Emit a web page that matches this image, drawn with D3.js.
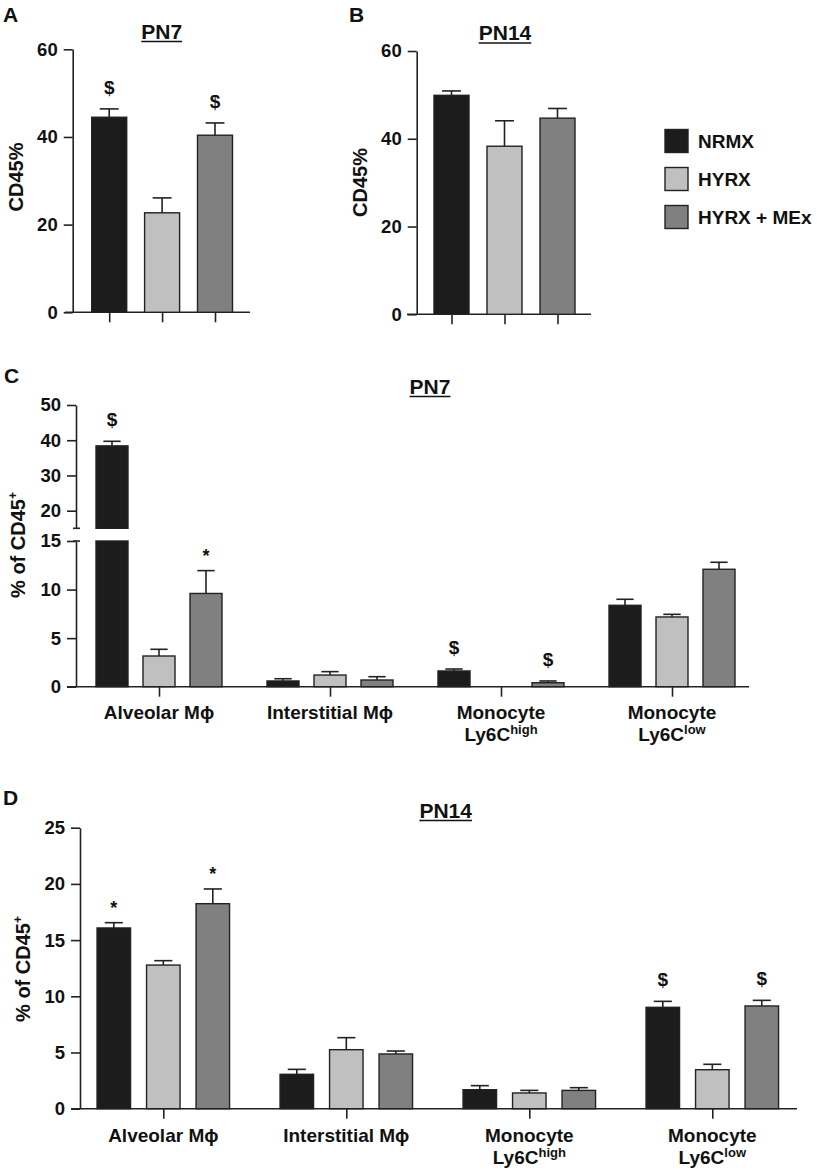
<!DOCTYPE html>
<html><head><meta charset="utf-8">
<script src="https://cdn.jsdelivr.net/npm/d3@7"></script>
<style>
body{margin:0;background:#fff}
text{font-family:"Liberation Sans",Arial,Helvetica,sans-serif;font-weight:bold;fill:#111}
</style>
</head><body>
<svg id="chart" width="817" height="1175"></svg>
<script>
// ---------- data ----------
const series = ["NRMX", "HYRX", "HYRX + MEx"];
const seriesColors = ["#1c1c1c", "#c0c0c0", "#808080"];

// Panel A (PN7, CD45%)
const aMeans = [44.5, 22.7, 40.4];
const aSems  = [1.9, 3.4, 2.8];
const aMarks = ["$", "", "$"];
const aTicks = [0, 20, 40, 60];

// Panel B (PN14, CD45%)
const bMeans = [49.9, 38.3, 44.7];
const bSems  = [1.0, 5.8, 2.2];
const bMarks = ["", "", ""];
const bTicks = [0, 20, 40, 60];

// Cell types
const cellTypes = ["Alveolar Mϕ", "Interstitial Mϕ", "Monocyte Ly6C high", "Monocyte Ly6C low"];
const labelLine1 = ["Alveolar Mϕ", "Interstitial Mϕ", "Monocyte", "Monocyte"];
const labelLine2 = ["", "", "Ly6C", "Ly6C"];
const labelSup   = ["", "", "high", "low"];

// Panel C (PN7, % of CD45+), broken axis
const cNRMX     = [38.4, 0.59, 1.62, 8.38];
const cNRMXsem  = [1.3, 0.23, 0.20, 0.62];
const cHYRX     = [3.16, 1.20, 0, 7.18];
const cHYRXsem  = [0.69, 0.35, 0, 0.27];
const cMEx      = [9.6, 0.69, 0.41, 12.09];
const cMExsem   = [2.35, 0.34, 0.18, 0.72];
const cMarksNRMX = ["$", "", "$", ""];
const cMarksHYRX = ["", "", "", ""];
const cMarksMEx  = ["*", "", "$", ""];
const cTicksLow  = [0, 5, 10, 15];
const cTicksHigh = [20, 30, 40, 50];

// Panel D (PN14, % of CD45+)
const dNRMX     = [16.08, 3.06, 1.69, 9.02];
const dNRMXsem  = [0.47, 0.44, 0.36, 0.53];
const dHYRX     = [12.78, 5.25, 1.40, 3.47];
const dHYRXsem  = [0.39, 1.07, 0.23, 0.48];
const dMEx      = [18.24, 4.87, 1.63, 9.14];
const dMExsem   = [1.31, 0.26, 0.24, 0.50];
const dMarksNRMX = ["*", "", "", "$"];
const dMarksHYRX = ["", "", "", ""];
const dMarksMEx  = ["*", "", "", "$"];
const dTicks = [0, 5, 10, 15, 20, 25];

// ---------- drawing ----------
const svg = d3.select("#chart");
const INK = "#222";

function styleAxis(g) {
  g.select(".domain").attr("stroke", INK).attr("stroke-width", 1.6);
  g.selectAll(".tick line").attr("stroke", INK).attr("stroke-width", 1.6);
  g.selectAll(".tick text").attr("font-size", 18.5).attr("fill", "#111")
    .style("font-family", '"Liberation Sans",Arial,sans-serif').style("font-weight", "bold");
}

function underlinedTitle(x, y, txt) {
  const t = svg.append("text").attr("x", x).attr("y", y).attr("text-anchor", "middle")
    .attr("font-size", 21).text(txt);
  const w = t.node().getComputedTextLength();
  svg.append("line").attr("x1", x - w / 2).attr("x2", x + w / 2)
    .attr("y1", y + 3).attr("y2", y + 3).attr("stroke", "#111").attr("stroke-width", 1.6);
}

function panelLetter(x, y, l) {
  svg.append("text").attr("x", x).attr("y", y).attr("font-size", 21).text(l);
}

function yLabel(x, y, main, sup) {
  const t = svg.append("text").attr("transform", `translate(${x},${y}) rotate(-90)`)
    .attr("text-anchor", "middle").attr("font-size", 20);
  t.append("tspan").text(main);
  if (sup) t.append("tspan").attr("font-size", 12).attr("dy", -8).text(sup);
}

function marker(x, yTop, m) {
  if (!m) return;
  svg.append("text").attr("x", x).attr("y", m === "*" ? yTop - 9 : yTop - 15)
    .attr("text-anchor", "middle").attr("font-size", m === "*" ? 18 : 19).text(m);
}

function bar(x, w, yTopPx, yBotPx, color) {
  svg.append("rect").attr("x", x - w / 2).attr("y", yTopPx).attr("width", w)
    .attr("height", Math.max(0, yBotPx - yTopPx)).attr("fill", color)
    .attr("stroke", INK).attr("stroke-width", 1.4);
}

function errBar(x, w, yMean, yErr) {
  svg.append("line").attr("x1", x).attr("x2", x).attr("y1", yMean).attr("y2", yErr)
    .attr("stroke", INK).attr("stroke-width", 1.6);
  svg.append("line").attr("x1", x - w * 0.27).attr("x2", x + w * 0.27).attr("y1", yErr).attr("y2", yErr)
    .attr("stroke", INK).attr("stroke-width", 1.6);
}

// ---- simple panels (A, B)
function simplePanel(cfg) {
  const y = d3.scaleLinear().domain([0, 60]).range([cfg.bottom, cfg.top]);
  const x = d3.scalePoint().domain(series).range(cfg.xRange);
  const gy = svg.append("g").attr("transform", `translate(${cfg.axisX},0)`)
    .call(d3.axisLeft(y).tickValues(cfg.ticks).tickSize(9).tickPadding(6).tickSizeOuter(0));
  styleAxis(gy);
  svg.append("line").attr("x1", cfg.baseX[0]).attr("x2", cfg.baseX[1])
    .attr("y1", y(0)).attr("y2", y(0)).attr("stroke", INK).attr("stroke-width", 1.6);
  const gx = svg.append("g").attr("transform", `translate(0,${y(0)})`)
    .call(d3.axisBottom(x).tickSize(10).tickFormat("").tickSizeOuter(0));
  gx.select(".domain").remove();
  gx.selectAll(".tick line").attr("stroke", INK).attr("stroke-width", 1.6);
  series.forEach((s, i) => {
    const cx = x(s);
    bar(cx, cfg.barW, y(cfg.means[i]), y(0), seriesColors[i]);
    errBar(cx, cfg.barW, y(cfg.means[i]), y(cfg.means[i] + cfg.sems[i]));
    marker(cx, y(cfg.means[i] + cfg.sems[i]), cfg.marks[i]);
  });
}

simplePanel({axisX: 72.7, bottom: 312.3, top: 49.3, ticks: aTicks, xRange: [109.2, 215], barW: 35,
  baseX: [65, 250], means: aMeans, sems: aSems, marks: aMarks});
simplePanel({axisX: 416.7, bottom: 314.3, top: 51, ticks: bTicks, xRange: [451.5, 557.5], barW: 35,
  baseX: [407, 591], means: bMeans, sems: bSems, marks: bMarks});

panelLetter(3, 22, "A");
panelLetter(349, 22, "B");
underlinedTitle(161.7, 38.5, "PN7");
underlinedTitle(505, 40, "PN14");
yLabel(22.5, 177, "CD45%");
yLabel(366.5, 182.5, "CD45%");

// legend
const legend = svg.append("g");
series.forEach((s, i) => {
  const ly = 129.5 + i * 38;
  legend.append("rect").attr("x", 665).attr("y", ly).attr("width", 23).attr("height", 23)
    .attr("fill", seriesColors[i]).attr("stroke", INK).attr("stroke-width", 1.4);
  legend.append("text").attr("x", 698).attr("y", ly + 18.5).attr("font-size", 19).text(s);
});

// ---- grouped panels (C, D)
function groupedPanel(cfg) {
  const xg = d3.scalePoint().domain(cellTypes).range(cfg.groupRange);
  const xs = d3.scalePoint().domain(series).range([-cfg.step, cfg.step]);
  const yPos = cfg.yPos;
  cfg.axes.forEach(a => {
    const g = svg.append("g").attr("transform", `translate(${cfg.axisX},0)`)
      .call(d3.axisLeft(a.scale).tickValues(a.ticks).tickSize(9).tickPadding(6).tickSizeOuter(0));
    styleAxis(g);
  });
  if (cfg.breakMarks) {
    cfg.breakMarks.forEach(by => {
      svg.append("line").attr("x1", cfg.axisX - 3).attr("x2", cfg.axisX + 4)
        .attr("y1", by).attr("y2", by).attr("stroke", INK).attr("stroke-width", 1.6);
    });
  }
  const y0 = yPos(0);
  svg.append("line").attr("x1", cfg.baseX[0]).attr("x2", cfg.baseX[1])
    .attr("y1", y0).attr("y2", y0).attr("stroke", INK).attr("stroke-width", 1.6);
  const gx = svg.append("g").attr("transform", `translate(0,${y0})`)
    .call(d3.axisBottom(xg).tickSize(10).tickFormat("").tickSizeOuter(0));
  gx.select(".domain").remove();
  gx.selectAll(".tick line").attr("stroke", INK).attr("stroke-width", 1.6);

  const means = cfg.means, sems = cfg.sems, marks = cfg.marks;
  cellTypes.forEach((c, gi) => {
    series.forEach((s, si) => {
      const cx = xg(c) + xs(s);
      const v = means[si][gi];
      const e = sems[si][gi];
      if (v > 0) {
        if (cfg.breakAt !== undefined && v > cfg.breakAt) {
          bar(cx, cfg.barW, cfg.yLow(cfg.breakAt), cfg.yLow(0), seriesColors[si]);
          bar(cx, cfg.barW, cfg.yHigh(v), cfg.yHigh(cfg.breakAt), seriesColors[si]);
        } else {
          bar(cx, cfg.barW, yPos(v), y0, seriesColors[si]);
        }
        errBar(cx, cfg.barW, yPos(v), yPos(v + e));
      }
      marker(cx, yPos(v + e), marks[si][gi]);
    });
    const cx = xg(c);
    svg.append("text").attr("x", cx).attr("y", cfg.labelY).attr("text-anchor", "middle")
      .attr("font-size", 19).text(labelLine1[gi]);
    if (labelLine2[gi]) {
      const t = svg.append("text").attr("x", cx).attr("y", cfg.labelY + 22).attr("text-anchor", "middle")
        .attr("font-size", 19);
      t.append("tspan").text(labelLine2[gi]);
      t.append("tspan").attr("font-size", 13).attr("dy", -7).text(labelSup[gi]);
    }
  });
}

// Panel C scales (broken axis)
const cBreak = 15;
const cYLow = d3.scaleLinear().domain([0, 15]).range([686.7, 541]);
const cYHigh = d3.scaleLinear().domain([15, 50]).range([528.3, 405]);
groupedPanel({
  axisX: 76, groupRange: [159, 672], step: 47, barW: 32, baseX: [67, 749],
  yLow: cYLow, yHigh: cYHigh, breakAt: cBreak,
  yPos: v => v <= cBreak ? cYLow(v) : cYHigh(v),
  axes: [{scale: cYLow, ticks: cTicksLow}, {scale: cYHigh, ticks: cTicksHigh}],
  breakMarks: [528.3, 541],
  means: [cNRMX, cHYRX, cMEx], sems: [cNRMXsem, cHYRXsem, cMExsem],
  marks: [cMarksNRMX, cMarksHYRX, cMarksMEx], labelY: 719
});
panelLetter(4, 383, "C");
underlinedTitle(430, 393.5, "PN7");
yLabel(25, 545, "% of CD45", "+");

// Panel D
const dY = d3.scaleLinear().domain([0, 25]).range([1108.7, 827.7]);
groupedPanel({
  axisX: 80, groupRange: [163.3, 712.3], step: 49.5, barW: 33.5, baseX: [71, 797],
  yPos: v => dY(v),
  axes: [{scale: dY, ticks: dTicks}],
  means: [dNRMX, dHYRX, dMEx], sems: [dNRMXsem, dHYRXsem, dMExsem],
  marks: [dMarksNRMX, dMarksHYRX, dMarksMEx], labelY: 1142
});
panelLetter(3, 805, "D");
underlinedTitle(445.7, 817.5, "PN14");
yLabel(30, 969, "% of CD45", "+");
</script>
</body></html>
